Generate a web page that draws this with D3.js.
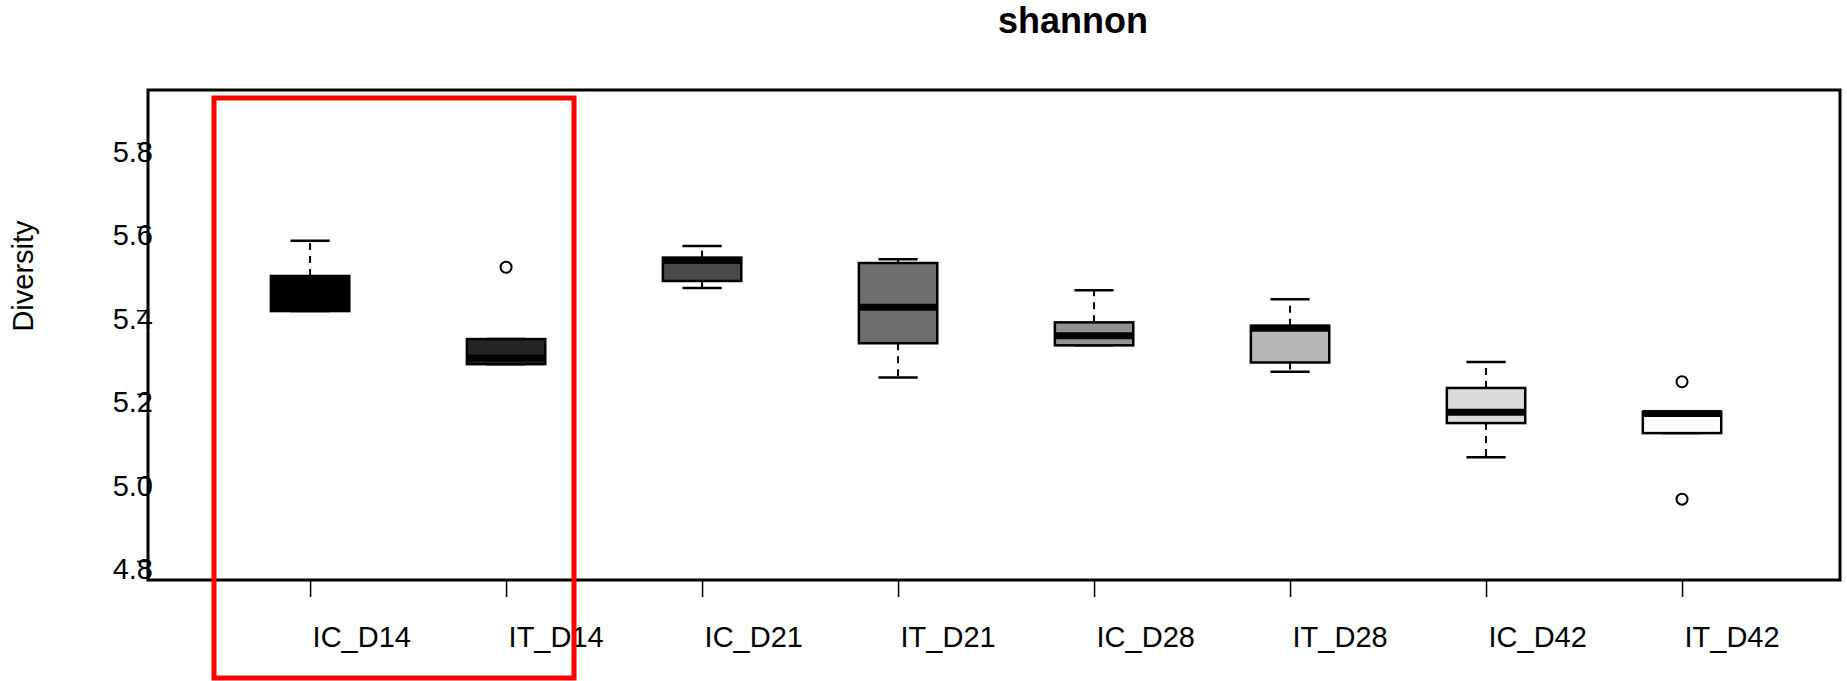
<!DOCTYPE html>
<html lang="en">
<head>
  <meta charset="UTF-8">
  <title>shannon</title>
  <script src="https://d3js.org/d3.v7.min.js"></script>
  <style>
    body { margin: 0; background: #fff; }
    text { font-family: "Liberation Sans", Arial, sans-serif; fill: #000; }
  </style>
</head>
<body>
  <svg width="1847" height="681"></svg>
  <script>
    // Groups and their box statistics
    const categories = ['IC_D14', 'IT_D14', 'IC_D21', 'IT_D21', 'IC_D28', 'IT_D28', 'IC_D42', 'IT_D42'];
    const whiskerLow  = [5.398, 5.271, 5.453, 5.239, 5.316, 5.253, 5.048, 5.106];
    const q1          = [5.398, 5.271, 5.470, 5.321, 5.316, 5.275, 5.130, 5.106];
    const median      = [5.460, 5.286, 5.519, 5.407, 5.339, 5.357, 5.156, 5.153];
    const q3          = [5.482, 5.331, 5.526, 5.513, 5.371, 5.363, 5.214, 5.157];
    const whiskerHigh = [5.566, 5.331, 5.554, 5.522, 5.448, 5.426, 5.276, 5.157];
    const outliers    = [[], [5.503], [], [], [], [], [], [5.229, 4.948]];
    const fills = ['#000000', '#242424', '#494949', '#6d6d6d', '#929292', '#b6b6b6', '#dbdbdb', '#ffffff'];
    const yTicks = [4.8, 5.0, 5.2, 5.4, 5.6, 5.8];

    const svg = d3.select('svg');
    const plotLeft = 148, plotRight = 1840, plotTop = 90, plotBottom = 580;

    const x = d3.scaleLinear().domain([0.173, 8.806]).range([plotLeft, plotRight]);
    const y = d3.scaleLinear().domain([4.7545, 5.927]).range([plotBottom, plotTop]);
    const half = 0.2, capHalf = 0.1;

    const data = categories.map((c, i) => ({
      name: c, pos: i + 1, lo: whiskerLow[i], q1: q1[i], med: median[i],
      q3: q3[i], hi: whiskerHigh[i], out: outliers[i], fill: fills[i]
    }));

    // Title
    svg.append('text')
      .attr('x', 1073).attr('y', 33)
      .attr('text-anchor', 'middle')
      .style('font-size', '36px').style('font-weight', 'bold')
      .text('shannon');

    // Y label
    svg.append('text')
      .attr('transform', 'translate(33,276) rotate(-90)')
      .attr('text-anchor', 'middle')
      .style('font-size', '29px')
      .text('Diversity');

    // Axes
    const yAxis = svg.append('g')
      .attr('transform', `translate(${plotLeft},0)`)
      .call(d3.axisLeft(y).tickValues(yTicks).tickSize(11).tickFormat(d3.format('.1f')));
    yAxis.select('.domain').remove();
    yAxis.selectAll('line').attr('stroke-width', 1.5);
    yAxis.selectAll('text')
      .attr('x', 5).attr('y', 18).attr('dy', null)
      .attr('text-anchor', 'end')
      .attr('fill', '#000')
      .style('font-size', '29px').style('font-family', '"Liberation Sans", Arial, sans-serif');

    const xAxis = svg.append('g')
      .attr('transform', `translate(0,${plotBottom})`)
      .call(d3.axisBottom(x).tickValues(data.map(d => d.pos)).tickSize(17)
        .tickFormat((d, i) => categories[i]));
    xAxis.select('.domain').remove();
    xAxis.selectAll('line').attr('stroke-width', 1.5);
    xAxis.selectAll('text')
      .attr('x', 2).attr('y', 67).attr('dy', null)
      .attr('text-anchor', 'start')
      .attr('fill', '#000')
      .style('font-size', '29px').style('font-family', '"Liberation Sans", Arial, sans-serif');

    // Boxes
    const g = svg.append('g').selectAll('g').data(data).enter().append('g');

    // whiskers (dashed)
    g.append('line')
      .attr('x1', d => x(d.pos)).attr('x2', d => x(d.pos))
      .attr('y1', d => y(d.q3)).attr('y2', d => y(d.hi))
      .attr('stroke', '#000').attr('stroke-width', 2).attr('stroke-dasharray', '7,6');
    g.append('line')
      .attr('x1', d => x(d.pos)).attr('x2', d => x(d.pos))
      .attr('y1', d => y(d.q1)).attr('y2', d => y(d.lo))
      .attr('stroke', '#000').attr('stroke-width', 2).attr('stroke-dasharray', '7,6');

    // caps
    ['hi', 'lo'].forEach(k => {
      g.append('line')
        .attr('x1', d => x(d.pos - capHalf)).attr('x2', d => x(d.pos + capHalf))
        .attr('y1', d => y(d[k])).attr('y2', d => y(d[k]))
        .attr('stroke', '#000').attr('stroke-width', 2.5);
    });

    // box
    g.append('rect')
      .attr('x', d => x(d.pos - half))
      .attr('width', d => x(d.pos + half) - x(d.pos - half))
      .attr('y', d => y(d.q3))
      .attr('height', d => y(d.q1) - y(d.q3))
      .attr('fill', d => d.fill)
      .attr('stroke', '#000').attr('stroke-width', 2.5);

    // median
    g.append('line')
      .attr('x1', d => x(d.pos - half)).attr('x2', d => x(d.pos + half))
      .attr('y1', d => y(d.med)).attr('y2', d => y(d.med))
      .attr('stroke', '#000').attr('stroke-width', 7);

    // outliers
    g.selectAll('circle')
      .data(d => d.out.map(v => ({ pos: d.pos, v })))
      .enter()
      .append('circle')
      .attr('cx', d => x(d.pos)).attr('cy', d => y(d.v))
      .attr('r', 5.5)
      .attr('fill', 'none').attr('stroke', '#000').attr('stroke-width', 2);

    // Plot frame
    svg.append('rect')
      .attr('x', plotLeft).attr('y', plotTop)
      .attr('width', plotRight - plotLeft).attr('height', plotBottom - plotTop)
      .attr('fill', 'none').attr('stroke', '#000').attr('stroke-width', 3);

    // Red highlight around the D14 groups
    svg.append('rect')
      .attr('x', 214).attr('y', 98)
      .attr('width', 360).attr('height', 580)
      .attr('fill', 'none').attr('stroke', '#ff0000').attr('stroke-width', 5);
  </script>
</body>
</html>
